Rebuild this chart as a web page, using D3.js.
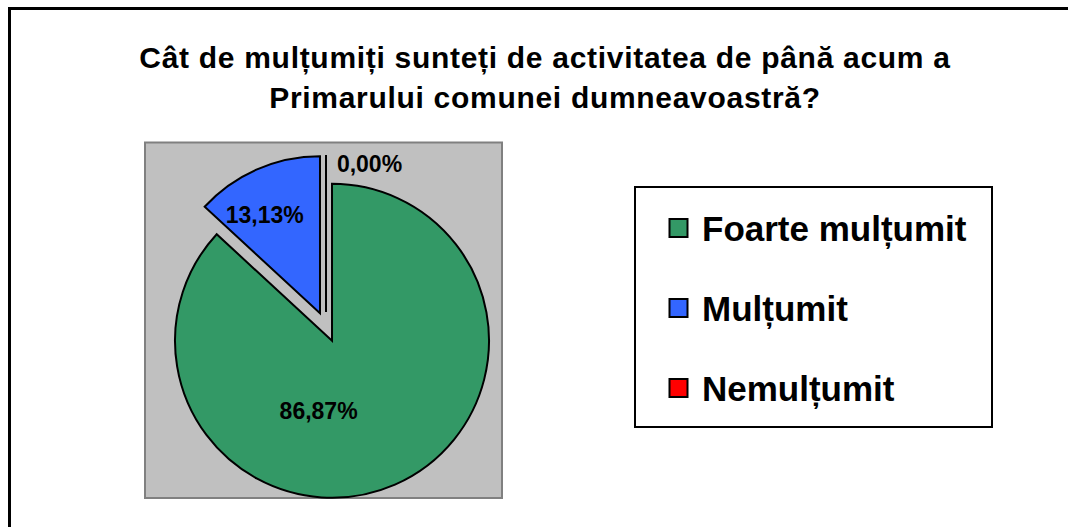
<!DOCTYPE html>
<html>
<head>
<meta charset="utf-8">
<script src="https://cdn.jsdelivr.net/npm/d3@7"></script>
<style>
  html, body { margin: 0; padding: 0; background: #fff; }
  svg { display: block; }
  text { font-family: "Liberation Sans", Arial, sans-serif; font-weight: bold; fill: #000; }
</style>
</head>
<body>
<svg id="chart" width="1068" height="527"></svg>
<script>
// ---- data ----
const titleLines = ["Cât de mulțumiți sunteți de activitatea de până acum a", "Primarului comunei dumneavoastră?"];
const categories = ["Foarte mulțumit", "Mulțumit", "Nemulțumit"];
const values = [86.87, 13.13, 0.00];
const labels = ["86,87%", "13,13%", "0,00%"];
const colors = ["#339966", "#3366FF", "#FF0000"];

// ---- layout ----
const W = 1068, H = 527;
const svg = d3.select("#chart");

// outer frame (cropped on right and bottom)
svg.append("path")
  .attr("d", `M9.5,${H} V8.5 H${W}`)
  .attr("fill", "none").attr("stroke", "#000").attr("stroke-width", 3);

// title
svg.append("g").selectAll("text").data(titleLines).join("text")
  .attr("x", 545).attr("y", (d, i) => 68 + i * 40)
  .attr("text-anchor", "middle")
  .style("font-size", "30px")
  .style("letter-spacing", "0.7px")
  .text(d => d);

// plot area
svg.append("rect")
  .attr("x", 145).attr("y", 142.5).attr("width", 357).attr("height", 355.5)
  .attr("fill", "#C0C0C0").attr("stroke", "#808080").attr("stroke-width", 2);

// pie
const cx = 326, cy = 327, R = 157, explode = 15;
const pie = d3.pie().sort(null).value(d => d).startAngle(0).endAngle(2 * Math.PI);
const arcs = pie(values);
const arc = d3.arc().innerRadius(0).outerRadius(R);

const slices = svg.append("g").selectAll("g").data(arcs).join("g")
  .attr("transform", d => {
    const a = (d.startAngle + d.endAngle) / 2;
    return `translate(${cx + explode * Math.sin(a)},${cy - explode * Math.cos(a)})`;
  });

slices.append("path")
  .attr("d", arc)
  .attr("fill", (d, i) => colors[i])
  .attr("stroke", "#000").attr("stroke-width", 2).attr("stroke-linejoin", "miter");

// data labels (polar placement relative to each exploded slice)
const labelPolar = [[190.9, 71], [330.7, 113], [16.3, 155]];
slices.append("text")
  .attr("x", (d, i) => labelPolar[i][1] * Math.sin(labelPolar[i][0] * Math.PI / 180))
  .attr("y", (d, i) => -labelPolar[i][1] * Math.cos(labelPolar[i][0] * Math.PI / 180))
  .attr("dy", "0.36em")
  .attr("text-anchor", "middle")
  .style("font-size", "23px")
  .text((d, i) => labels[i]);

// legend
const legend = svg.append("g");
legend.append("rect")
  .attr("x", 635).attr("y", 187).attr("width", 357).attr("height", 240)
  .attr("fill", "#fff").attr("stroke", "#000").attr("stroke-width", 2);

const items = legend.selectAll("g.item").data(categories).join("g")
  .attr("class", "item")
  .attr("transform", (d, i) => `translate(669,${228 + i * 80})`);
items.append("rect")
  .attr("x", 0.5).attr("y", -9).attr("width", 18).attr("height", 18)
  .attr("fill", (d, i) => colors[i]).attr("stroke", "#000").attr("stroke-width", 2);
items.append("text")
  .attr("x", 33).attr("y", 13)
  .style("font-size", "35px")
  .text(d => d);
</script>
</body>
</html>
